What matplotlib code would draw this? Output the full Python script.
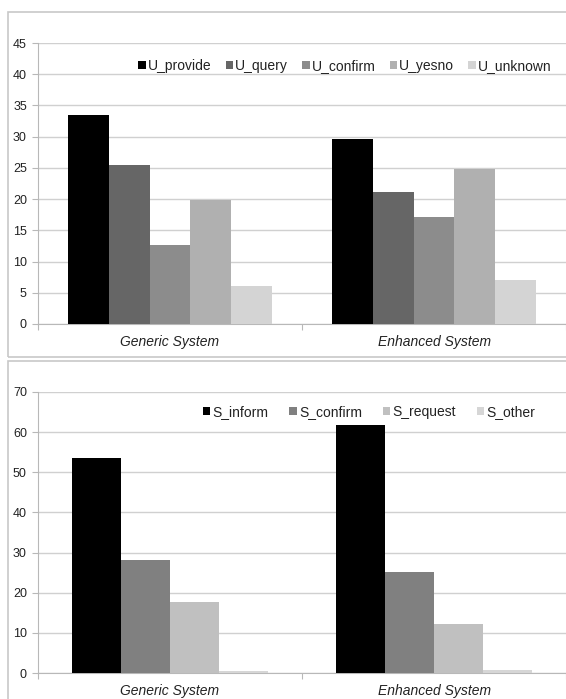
import matplotlib.pyplot as plt
from matplotlib.patches import Rectangle

plt.rcParams['font.family'] = ['Liberation Sans', 'DejaVu Sans']

groups = ['Generic System', 'Enhanced System']

# top chart: user acts
u_names = ['U_provide', 'U_query', 'U_confirm', 'U_yesno', 'U_unknown']
u_vals = [[33.4, 29.6], [25.5, 21.1], [12.7, 17.1], [19.9, 24.9], [6.1, 7.1]]
u_cols = ['#000000', '#666666', '#8c8c8c', '#b0b0b0', '#d4d4d4']

# bottom chart: system acts
s_names = ['S_inform', 'S_confirm', 'S_request', 'S_other']
s_vals = [[53.5, 61.9], [28.1, 25.2], [17.8, 12.2], [0.4, 0.8]]
s_cols = ['#000000', '#808080', '#c0c0c0', '#d6d6d6']

W, H = 566, 699
fig = plt.figure(figsize=(W / 100, H / 100), dpi=100)

# panel frames
fig.patches.append(Rectangle((8 / W, 1 - 357 / H), 600 / W, 345 / H,
                             transform=fig.transFigure, fill=False,
                             edgecolor='#c8c8c8', lw=1.2))
fig.patches.append(Rectangle((8 / W, 1 - 720 / H), 600 / W, 359 / H,
                             transform=fig.transFigure, fill=False,
                             edgecolor='#c8c8c8', lw=1.2))


def draw(rect, names, vals, cols, ymax, step, gw, leg_y, leg_x, colsp, pad):
    ax = fig.add_axes(rect)
    n = len(names)
    bw = gw / n
    for i in range(n):
        xs = [g - gw / 2 + bw * (i + 0.5) for g in range(len(groups))]
        ax.bar(xs, vals[i], bw, color=cols[i], label=names[i], zorder=3)
    ax.set_xlim(-0.5, 1.5)
    ax.set_ylim(0, ymax)
    ax.set_yticks(range(0, ymax + 1, step))
    ax.grid(axis='y', color='#d0d0d0', lw=1, zorder=0)
    for s in ['top', 'right']:
        ax.spines[s].set_visible(False)
    for s in ['left', 'bottom']:
        ax.spines[s].set_color('#b8b8b8')
    ax.tick_params(axis='y', colors='#b8b8b8', labelcolor='#222222',
                   labelsize=9, length=4, pad=4)
    ax.set_xticks([-0.5, 0.5, 1.5])
    ax.set_xticklabels([])
    ax.set_xticks([0, 1], minor=True)
    ax.set_xticklabels(groups, minor=True, style='italic', fontsize=10,
                       color='#222222')
    ax.tick_params(axis='x', which='major', colors='#b8b8b8', length=4)
    ax.tick_params(axis='x', which='minor', length=0, pad=pad)
    ax.legend(loc='center', bbox_to_anchor=(leg_x, leg_y),
              bbox_transform=fig.transFigure, ncol=n, frameon=False,
              fontsize=10, handlelength=0.55, handleheight=0.55,
              handletextpad=0.15, columnspacing=colsp,
              labelcolor='#222222')
    return ax


draw([38 / W, 1 - 324 / H, 528 / W, 281 / H], u_names, u_vals, u_cols,
     45, 5, 0.77, 1 - 66 / H, 345 / W, 1.0, 8)
draw([38 / W, 1 - 673 / H, 528 / W, 281 / H], s_names, s_vals, s_cols,
     70, 10, 0.74, 1 - 412 / H, 369 / W, 1.5, 8)

fig.savefig('out.png', dpi=100)
